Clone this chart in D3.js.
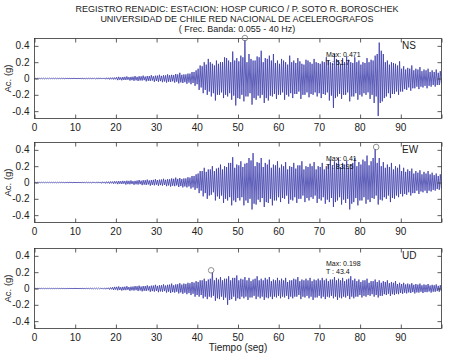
<!DOCTYPE html>
<html>
<head>
<meta charset="utf-8">
<script src="https://cdn.jsdelivr.net/npm/d3@7"></script>
<style>
  body { margin: 0; background: #fff; }
  svg { font-family: 'Liberation Sans', Arial, sans-serif; }
</style>
</head>
<body>
<div class="container"></div>
<script>
const w = 450;
const h = 359;

const titleLines = [
    'REGISTRO RENADIC: ESTACION: HOSP CURICO / P. SOTO R. BOROSCHEK',
    'UNIVERSIDAD DE CHILE RED NACIONAL DE ACELEROGRAFOS',
    '( Frec. Banda: 0.055 - 40 Hz)'
];

const components = ['NS', 'EW', 'UD'];
const maxValues = ['0.471', '0.41', '0.198'];
const maxTimes = [51.7, 83.95, 43.4];
const xTicks = [0, 10, 20, 30, 40, 50, 60, 70, 80, 90, 100];
const xTickLabels = ['0', '10', '20', '30', '40', '50', '60', '70', '80', '90', ''];
const yTicks = [-0.4, -0.2, 0, 0.2, 0.4];
const yTickLabels = ['-0.4', '-0.2', '0', '0.2', '0.4'];

// peaks, two up and two down swings per second
const nsHi = [0.003,0.004,0.003,0.005,0.004,0.003,0.005,0.004,0.004,0.005,
    0.005,0.006,0.005,0.007,0.006,0.008,0.007,0.009,0.01,0.012,
    0.02,0.018,0.025,0.02,0.03,0.028,0.035,0.03,0.04,0.035,
    0.045,0.04,0.05,0.045,0.055,0.07,0.05,0.06,0.08,0.1,
    0.16,0.2,0.24,0.18,0.22,0.2,0.26,0.22,0.33,0.25,
    0.28,0.471,0.3,0.22,0.27,0.34,0.25,0.28,0.3,0.22,
    0.24,0.2,0.28,0.22,0.25,0.18,0.23,0.2,0.24,0.19,
    0.21,0.26,0.2,0.3,0.22,0.25,0.27,0.2,0.26,0.22,
    0.2,0.25,0.23,0.28,0.44,0.3,0.22,0.2,0.18,0.21,
    0.15,0.13,0.16,0.12,0.14,0.11,0.12,0.1,0.11,0.09];
const nsLo = [-0.004,-0.003,-0.005,-0.004,-0.003,-0.004,-0.004,-0.005,-0.003,-0.004,
    -0.005,-0.006,-0.006,-0.005,-0.007,-0.008,-0.007,-0.009,-0.011,-0.012,
    -0.02,-0.022,-0.018,-0.025,-0.028,-0.03,-0.025,-0.035,-0.03,-0.04,
    -0.04,-0.045,-0.05,-0.042,-0.05,-0.06,-0.055,-0.065,-0.07,-0.09,
    -0.14,-0.18,-0.2,-0.22,-0.27,-0.2,-0.24,-0.22,-0.26,-0.33,
    -0.25,-0.28,-0.22,-0.32,-0.26,-0.24,-0.3,-0.27,-0.22,-0.25,
    -0.2,-0.26,-0.22,-0.24,-0.19,-0.25,-0.2,-0.23,-0.2,-0.22,
    -0.24,-0.2,-0.27,-0.36,-0.22,-0.25,-0.2,-0.28,-0.22,-0.26,
    -0.22,-0.2,-0.25,-0.3,-0.46,-0.28,-0.22,-0.24,-0.19,-0.2,
    -0.16,-0.14,-0.15,-0.12,-0.13,-0.11,-0.12,-0.1,-0.1,-0.08];
const nsHi2 = [0.003,0.003,0.004,0.003,0.003,0.004,0.003,0.004,0.003,0.004,
    0.004,0.005,0.004,0.005,0.006,0.006,0.008,0.007,0.009,0.01,
    0.015,0.014,0.02,0.017,0.022,0.02,0.026,0.024,0.03,0.028,
    0.035,0.032,0.038,0.04,0.042,0.05,0.045,0.05,0.06,0.08,
    0.12,0.15,0.17,0.2,0.16,0.18,0.2,0.25,0.2,0.22,
    0.21,0.26,0.2,0.24,0.22,0.26,0.2,0.24,0.22,0.19,
    0.18,0.22,0.17,0.2,0.19,0.21,0.17,0.22,0.18,0.2,
    0.18,0.2,0.22,0.19,0.24,0.18,0.2,0.23,0.19,0.2,
    0.17,0.19,0.2,0.22,0.3,0.34,0.2,0.17,0.19,0.16,
    0.12,0.11,0.12,0.1,0.11,0.09,0.1,0.08,0.08,0.07];
const nsLo2 = [-0.003,-0.004,-0.003,-0.003,-0.004,-0.003,-0.004,-0.003,-0.004,-0.003,
    -0.004,-0.005,-0.005,-0.006,-0.005,-0.007,-0.006,-0.008,-0.009,-0.01,
    -0.016,-0.018,-0.015,-0.02,-0.022,-0.024,-0.02,-0.028,-0.025,-0.03,
    -0.032,-0.036,-0.04,-0.035,-0.04,-0.048,-0.045,-0.05,-0.055,-0.07,
    -0.11,-0.14,-0.16,-0.18,-0.2,-0.17,-0.2,-0.18,-0.21,-0.24,
    -0.2,-0.22,-0.18,-0.24,-0.21,-0.2,-0.24,-0.21,-0.19,-0.2,
    -0.17,-0.2,-0.18,-0.19,-0.16,-0.2,-0.17,-0.19,-0.17,-0.18,
    -0.19,-0.17,-0.21,-0.24,-0.19,-0.2,-0.17,-0.22,-0.18,-0.2,
    -0.18,-0.17,-0.2,-0.22,-0.3,-0.24,-0.18,-0.19,-0.16,-0.16,
    -0.13,-0.11,-0.12,-0.1,-0.1,-0.09,-0.09,-0.08,-0.08,-0.06];

const ewHi = [0.003,0.004,0.003,0.004,0.003,0.004,0.004,0.003,0.005,0.004,
    0.005,0.005,0.006,0.006,0.007,0.008,0.009,0.01,0.012,0.015,
    0.018,0.02,0.022,0.025,0.02,0.03,0.028,0.035,0.03,0.04,
    0.035,0.045,0.04,0.05,0.06,0.055,0.05,0.065,0.08,0.1,
    0.14,0.18,0.16,0.2,0.17,0.22,0.2,0.24,0.31,0.22,
    0.26,0.23,0.3,0.36,0.25,0.3,0.24,0.28,0.22,0.26,
    0.22,0.25,0.2,0.24,0.21,0.26,0.2,0.23,0.25,0.2,
    0.24,0.2,0.28,0.26,0.3,0.24,0.27,0.22,0.3,0.25,
    0.28,0.33,0.26,0.41,0.3,0.25,0.22,0.24,0.2,0.22,
    0.18,0.16,0.17,0.14,0.15,0.13,0.14,0.12,0.11,0.1];
const ewLo = [-0.004,-0.003,-0.004,-0.003,-0.004,-0.005,-0.003,-0.004,-0.004,-0.005,
    -0.005,-0.006,-0.006,-0.007,-0.007,-0.008,-0.01,-0.011,-0.013,-0.015,
    -0.02,-0.018,-0.025,-0.022,-0.028,-0.025,-0.032,-0.03,-0.038,-0.035,
    -0.04,-0.038,-0.045,-0.05,-0.045,-0.055,-0.06,-0.06,-0.075,-0.09,
    -0.13,-0.17,-0.2,-0.15,-0.22,-0.2,-0.25,-0.22,-0.28,-0.24,
    -0.22,-0.28,-0.25,-0.33,-0.27,-0.24,-0.3,-0.25,-0.28,-0.22,
    -0.24,-0.2,-0.26,-0.22,-0.25,-0.2,-0.24,-0.22,-0.2,-0.25,
    -0.22,-0.26,-0.24,-0.3,-0.22,-0.27,-0.25,-0.33,-0.24,-0.28,
    -0.22,-0.26,-0.24,-0.2,-0.27,-0.22,-0.2,-0.24,-0.2,-0.18,
    -0.17,-0.15,-0.16,-0.13,-0.14,-0.12,-0.13,-0.11,-0.1,-0.09];
const ewHi2 = [0.003,0.003,0.004,0.003,0.003,0.003,0.004,0.003,0.004,0.003,
    0.004,0.004,0.005,0.005,0.006,0.006,0.007,0.008,0.01,0.012,
    0.014,0.016,0.018,0.02,0.017,0.024,0.022,0.028,0.025,0.032,
    0.03,0.036,0.033,0.04,0.045,0.044,0.042,0.05,0.06,0.08,
    0.11,0.14,0.13,0.16,0.14,0.18,0.16,0.19,0.24,0.18,
    0.21,0.19,0.24,0.27,0.2,0.24,0.19,0.22,0.18,0.21,
    0.18,0.2,0.16,0.19,0.17,0.21,0.16,0.19,0.2,0.16,
    0.19,0.16,0.22,0.21,0.24,0.19,0.22,0.18,0.24,0.2,
    0.22,0.26,0.21,0.3,0.24,0.2,0.18,0.19,0.16,0.18,
    0.14,0.13,0.14,0.11,0.12,0.1,0.11,0.1,0.09,0.08];
const ewLo2 = [-0.003,-0.003,-0.003,-0.003,-0.003,-0.004,-0.003,-0.003,-0.003,-0.004,
    -0.004,-0.005,-0.005,-0.006,-0.006,-0.007,-0.008,-0.009,-0.01,-0.012,
    -0.016,-0.015,-0.02,-0.018,-0.022,-0.02,-0.026,-0.024,-0.03,-0.028,
    -0.032,-0.03,-0.036,-0.04,-0.036,-0.044,-0.048,-0.048,-0.06,-0.07,
    -0.1,-0.13,-0.16,-0.12,-0.17,-0.16,-0.2,-0.18,-0.22,-0.19,
    -0.18,-0.22,-0.2,-0.26,-0.21,-0.19,-0.24,-0.2,-0.22,-0.18,
    -0.19,-0.16,-0.21,-0.18,-0.2,-0.16,-0.19,-0.18,-0.16,-0.2,
    -0.18,-0.21,-0.19,-0.24,-0.18,-0.21,-0.2,-0.26,-0.19,-0.22,
    -0.18,-0.21,-0.19,-0.16,-0.21,-0.18,-0.16,-0.19,-0.16,-0.14,
    -0.14,-0.12,-0.13,-0.1,-0.11,-0.1,-0.1,-0.09,-0.08,-0.07];

const udHi = [0.002,0.003,0.002,0.003,0.002,0.003,0.003,0.002,0.003,0.003,
    0.003,0.004,0.004,0.005,0.005,0.006,0.007,0.008,0.012,0.02,
    0.025,0.02,0.028,0.022,0.03,0.035,0.03,0.038,0.035,0.045,
    0.04,0.05,0.045,0.06,0.05,0.065,0.06,0.07,0.08,0.09,
    0.1,0.12,0.11,0.198,0.13,0.14,0.12,0.15,0.13,0.16,
    0.12,0.14,0.13,0.11,0.15,0.12,0.13,0.14,0.11,0.13,
    0.12,0.13,0.1,0.12,0.14,0.11,0.12,0.13,0.11,0.12,
    0.13,0.12,0.11,0.14,0.12,0.13,0.11,0.15,0.12,0.11,
    0.1,0.12,0.09,0.11,0.1,0.09,0.1,0.08,0.09,0.07,
    0.07,0.06,0.065,0.055,0.06,0.05,0.055,0.045,0.05,0.04];
const udLo = [-0.003,-0.002,-0.003,-0.002,-0.003,-0.002,-0.003,-0.003,-0.002,-0.003,
    -0.003,-0.004,-0.004,-0.005,-0.006,-0.006,-0.007,-0.009,-0.012,-0.018,
    -0.022,-0.025,-0.02,-0.028,-0.025,-0.03,-0.035,-0.03,-0.04,-0.038,
    -0.045,-0.04,-0.05,-0.055,-0.05,-0.06,-0.065,-0.07,-0.08,-0.1,
    -0.1,-0.12,-0.13,-0.11,-0.15,-0.13,-0.14,-0.2,-0.13,-0.15,
    -0.13,-0.12,-0.14,-0.11,-0.13,-0.12,-0.14,-0.12,-0.13,-0.11,
    -0.12,-0.11,-0.13,-0.12,-0.1,-0.13,-0.11,-0.12,-0.14,-0.11,
    -0.12,-0.13,-0.11,-0.12,-0.14,-0.12,-0.11,-0.13,-0.12,-0.1,
    -0.11,-0.1,-0.09,-0.1,-0.11,-0.09,-0.08,-0.09,-0.08,-0.07,
    -0.065,-0.06,-0.055,-0.06,-0.05,-0.055,-0.045,-0.05,-0.04,-0.04];
const udHi2 = [0.002,0.002,0.003,0.002,0.002,0.002,0.002,0.002,0.002,0.002,
    0.003,0.003,0.003,0.004,0.004,0.005,0.006,0.006,0.009,0.015,
    0.02,0.016,0.022,0.018,0.024,0.028,0.024,0.03,0.028,0.036,
    0.032,0.04,0.036,0.048,0.04,0.052,0.048,0.056,0.064,0.072,
    0.08,0.1,0.09,0.12,0.1,0.11,0.1,0.12,0.1,0.13,
    0.1,0.11,0.1,0.09,0.12,0.1,0.1,0.11,0.09,0.1,
    0.1,0.1,0.08,0.1,0.11,0.09,0.1,0.1,0.09,0.1,
    0.1,0.1,0.09,0.11,0.1,0.1,0.09,0.12,0.1,0.09,
    0.08,0.1,0.07,0.09,0.08,0.07,0.08,0.065,0.07,0.055,
    0.055,0.05,0.05,0.045,0.048,0.04,0.044,0.036,0.04,0.032];
const udLo2 = [-0.002,-0.002,-0.002,-0.002,-0.002,-0.002,-0.002,-0.002,-0.002,-0.002,
    -0.003,-0.003,-0.003,-0.004,-0.005,-0.005,-0.006,-0.007,-0.01,-0.014,
    -0.018,-0.02,-0.016,-0.022,-0.02,-0.024,-0.028,-0.024,-0.032,-0.03,
    -0.036,-0.032,-0.04,-0.044,-0.04,-0.048,-0.052,-0.056,-0.064,-0.08,
    -0.08,-0.1,-0.1,-0.09,-0.12,-0.1,-0.11,-0.14,-0.1,-0.12,
    -0.1,-0.1,-0.11,-0.09,-0.1,-0.1,-0.11,-0.1,-0.1,-0.09,
    -0.1,-0.09,-0.1,-0.1,-0.08,-0.1,-0.09,-0.1,-0.11,-0.09,
    -0.1,-0.1,-0.09,-0.1,-0.11,-0.1,-0.09,-0.1,-0.1,-0.08,
    -0.09,-0.08,-0.07,-0.08,-0.09,-0.07,-0.065,-0.07,-0.065,-0.055,
    -0.052,-0.048,-0.044,-0.048,-0.04,-0.044,-0.036,-0.04,-0.032,-0.032];

const peaks = [
    [nsHi2, nsLo, nsHi, nsLo2],
    [ewHi2, ewLo, ewHi, ewLo2],
    [udHi2, udLo, udHi, udLo2]
];
const offsets = [0.2, 0.45, 0.7, 0.95];

const panelTops = [38.5, 142.5, 248.5];
const panelH = 80;
const left = 34.5;
const right = 441.5;

const svg = d3.select('.container')
    .append('svg')
    .attr('width', w)
    .attr('height', h);

const x = d3.scaleLinear().domain([0, 100]).range([left, right]);

svg.append('g')
    .selectAll('text')
    .data(titleLines)
    .join('text')
    .attr('x', 237)
    .attr('y', (d, i) => 12 + i * 10)
    .attr('text-anchor', 'middle')
    .style('font-size', '9px')
    .style('fill', '#222')
    .text(d => d);

components.forEach((comp, p) => {
    const top = panelTops[p];
    const y = d3.scaleLinear().domain([-0.49, 0.49]).range([top + panelH, top]);
    const g = svg.append('g');

    const pts = [[0, 0]];
    d3.range(100).forEach(i => {
        peaks[p].forEach((arr, k) => pts.push([i + offsets[k], arr[i]]));
    });
    const line = d3.line().x(d => x(d[0])).y(d => y(d[1]));
    g.append('path')
        .datum(pts)
        .attr('d', line)
        .attr('fill', 'none')
        .attr('stroke', '#3838aa')
        .attr('stroke-width', 0.8);

    // frame
    g.append('rect')
        .attr('x', left)
        .attr('y', top)
        .attr('width', right - left)
        .attr('height', panelH)
        .attr('fill', 'none')
        .attr('stroke', '#333')
        .attr('stroke-width', 0.8);

    // inner ticks on all four sides
    g.append('g')
        .attr('transform', `translate(0,${top + panelH})`)
        .call(d3.axisTop(x).tickValues(xTicks).tickSize(4).tickFormat(''))
        .call(a => a.select('.domain').remove());
    g.append('g')
        .attr('transform', `translate(0,${top})`)
        .call(d3.axisBottom(x).tickValues(xTicks).tickSize(4).tickFormat(''))
        .call(a => a.select('.domain').remove());
    g.append('g')
        .attr('transform', `translate(${left},0)`)
        .call(d3.axisRight(y).tickValues(yTicks).tickSize(4).tickFormat(''))
        .call(a => a.select('.domain').remove());
    g.append('g')
        .attr('transform', `translate(${right},0)`)
        .call(d3.axisLeft(y).tickValues(yTicks).tickSize(4).tickFormat(''))
        .call(a => a.select('.domain').remove());
    g.selectAll('.tick line').attr('stroke', '#333').attr('stroke-width', 0.8);

    g.append('g')
        .selectAll('text')
        .data(yTicks)
        .join('text')
        .attr('x', left - 5)
        .attr('y', d => y(d) + 3.5)
        .attr('text-anchor', 'end')
        .style('font-size', '10px')
        .style('fill', '#222')
        .text((d, i) => yTickLabels[i]);
    g.append('g')
        .selectAll('text')
        .data(xTicks)
        .join('text')
        .attr('x', d => x(d))
        .attr('y', top + panelH + 12)
        .attr('text-anchor', 'middle')
        .style('font-size', '10px')
        .style('fill', '#222')
        .text((d, i) => xTickLabels[i]);

    g.append('text')
        .attr('transform', `translate(11,${top + panelH / 2}) rotate(-90)`)
        .attr('text-anchor', 'middle')
        .style('font-size', '9.5px')
        .style('fill', '#222')
        .text('Ac. (g)');

    g.append('text')
        .attr('x', 402)
        .attr('y', top + 10)
        .style('font-size', '10px')
        .style('fill', '#222')
        .text(comp);

    // peak marker and note
    const maxV = +maxValues[p];
    g.append('circle')
        .attr('cx', x(maxTimes[p]))
        .attr('cy', y(maxV) - 2)
        .attr('r', 2.8)
        .attr('fill', 'none')
        .attr('stroke', '#777')
        .attr('stroke-width', 0.8);

    const annY = p === 2 ? top + 17 : top + 18;
    g.append('text')
        .attr('x', 326)
        .attr('y', annY)
        .style('font-size', '7px')
        .style('fill', '#111')
        .text('Max: ' + maxValues[p]);
    g.append('text')
        .attr('x', 326)
        .attr('y', annY + 8)
        .style('font-size', '7px')
        .style('fill', '#111')
        .text('T    : ' + maxTimes[p]);
});

svg.append('text')
    .attr('x', 238)
    .attr('y', 351)
    .attr('text-anchor', 'middle')
    .style('font-size', '10px')
    .style('fill', '#222')
    .text('Tiempo (seg)');
</script>
</body>
</html>
